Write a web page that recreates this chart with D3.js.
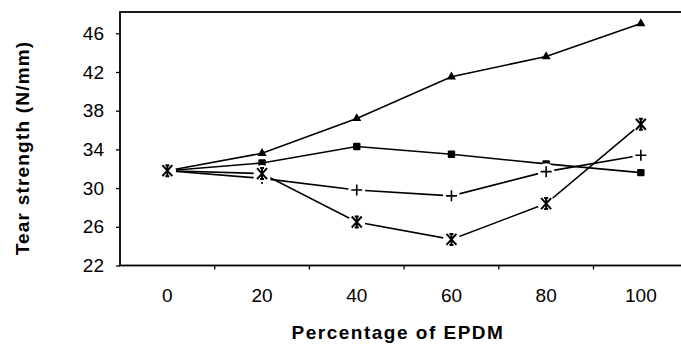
<!DOCTYPE html>
<html>
<head>
<meta charset="utf-8">
<script src="https://cdn.jsdelivr.net/npm/d3@7/dist/d3.min.js"></script>
<style>
  html, body { margin: 0; padding: 0; background: #fff; }
  svg { display: block; }
  text { font-family: "Liberation Sans", Arial, sans-serif; fill: #000; }
</style>
</head>
<body>
<svg id="chart" width="681" height="344"></svg>
<script>
// ---- data ----
const categories = ["0", "20", "40", "60", "80", "100"];
const yTicks = [22, 26, 30, 34, 38, 42, 46];
const seriesTriangle = [31.8, 33.6, 37.2, 41.5, 43.6, 47.0];
const seriesSquare   = [31.8, 32.6, 34.3, 33.5, 32.5, 31.6];
const seriesPlus     = [31.8, 31.0, 29.8, 29.2, 31.7, 33.4];
const seriesStar     = [31.8, 31.5, 26.5, 24.7, 28.4, 36.6];
const xTitle = "Percentage of EPDM";
const yTitle = "Tear strength (N/mm)";

const series = [
  { name: "triangle", values: seriesTriangle },
  { name: "square", values: seriesSquare },
  { name: "plus", values: seriesPlus },
  { name: "star", values: seriesStar }
];

// ---- layout ----
const svg = d3.select("#chart");
const pLeft = 120, pTop = 12, pBottom = 265.5, step = 94.7;
const x = d3.scaleBand().domain(categories).range([pLeft, pLeft + step * categories.length]).padding(0);
const y = d3.scaleLinear().domain([22, 48.2]).range([pBottom, pTop]);
const cx = c => x(c) + x.bandwidth() / 2;
const FONT = '"Liberation Sans", Arial, sans-serif';

// y axis
const yAxis = svg.append("g").attr("transform", `translate(${pLeft},0)`)
  .call(d3.axisLeft(y).tickValues(yTicks).tickSize(4).tickPadding(12).tickFormat(d3.format("d")));
yAxis.select(".domain").remove();
yAxis.selectAll("line").attr("stroke", "#000").attr("stroke-width", 1.3);
yAxis.selectAll("text").style("font-size", "19px").attr("fill", "#000").style("font-family", FONT);

// x axis labels
const xAxis = svg.append("g").attr("transform", `translate(0,${pBottom})`)
  .call(d3.axisBottom(x).tickSize(0).tickPadding(23).tickFormat(d => d));
xAxis.select(".domain").remove();
xAxis.selectAll("text").style("font-size", "19px").attr("fill", "#000").style("font-family", FONT);
// x ticks between categories
svg.append("g").selectAll("line")
  .data(categories.slice(1))
  .join("line")
  .attr("x1", d => x(d)).attr("x2", d => x(d))
  .attr("y1", pBottom).attr("y2", pBottom + 4)
  .attr("stroke", "#000").attr("stroke-width", 1.3);

// plot box
const pRight = pLeft + step * categories.length;
svg.append("rect")
  .attr("x", pLeft).attr("y", pTop)
  .attr("width", pRight - pLeft).attr("height", pBottom - pTop)
  .attr("fill", "none").attr("stroke", "#000").attr("stroke-width", 1.8);

// lines
const line = d3.line().x((d, i) => cx(categories[i])).y(d => y(d));
svg.append("g").selectAll("path")
  .data(series)
  .join("path")
  .attr("d", s => line(s.values))
  .attr("fill", "none").attr("stroke", "#000").attr("stroke-width", 1.6);

// markers
const mk = svg.append("g");
function pts(s) { return s.values.map((v, i) => ({ x: cx(categories[i]), y: y(v) })); }

// triangle
mk.append("g").selectAll("path").data(pts(series[0])).join("path")
  .attr("d", d3.symbol().type(d3.symbolTriangle).size(36))
  .attr("transform", d => `translate(${d.x},${d.y})`)
  .attr("fill", "#000");
// square
mk.append("g").selectAll("rect").data(pts(series[1])).join("rect")
  .attr("x", d => d.x - 3.7).attr("y", d => d.y - 3.7)
  .attr("width", 7.4).attr("height", 7.4).attr("rx", 1).attr("fill", "#000");
// plus with white halo
const plusG = mk.append("g").selectAll("g").data(pts(series[2])).join("g")
  .attr("transform", d => `translate(${d.x},${d.y})`);
plusG.append("circle").attr("r", 8.5).attr("fill", "#fff");
plusG.append("path").attr("d", "M-5.5,0H5.5M0,-5.5V5.5").attr("stroke", "#000").attr("stroke-width", 1.6);
// star (asterisk) with white halo
const starG = mk.append("g").selectAll("g").data(pts(series[3])).join("g")
  .attr("transform", d => `translate(${d.x},${d.y})`);
starG.append("circle").attr("r", 8.5).attr("fill", "#fff");
starG.append("path").attr("d", "M-5,-5.5L5,5.5M-5,5.5L5,-5.5M0,-5.5V5.5M-2,-5.5H2M-2,5.5H2")
  .attr("stroke", "#000").attr("stroke-width", 2);

// titles
svg.append("text")
  .attr("x", 398).attr("y", 339)
  .attr("text-anchor", "middle")
  .style("font-size", "19px").style("font-weight", "bold").style("letter-spacing", "1.5px")
  .text(xTitle);
svg.append("text")
  .attr("transform", "translate(29,148) rotate(-90)")
  .attr("text-anchor", "middle")
  .style("font-size", "19px").style("font-weight", "bold").style("letter-spacing", "1.2px")
  .text(yTitle);
</script>
</body>
</html>
